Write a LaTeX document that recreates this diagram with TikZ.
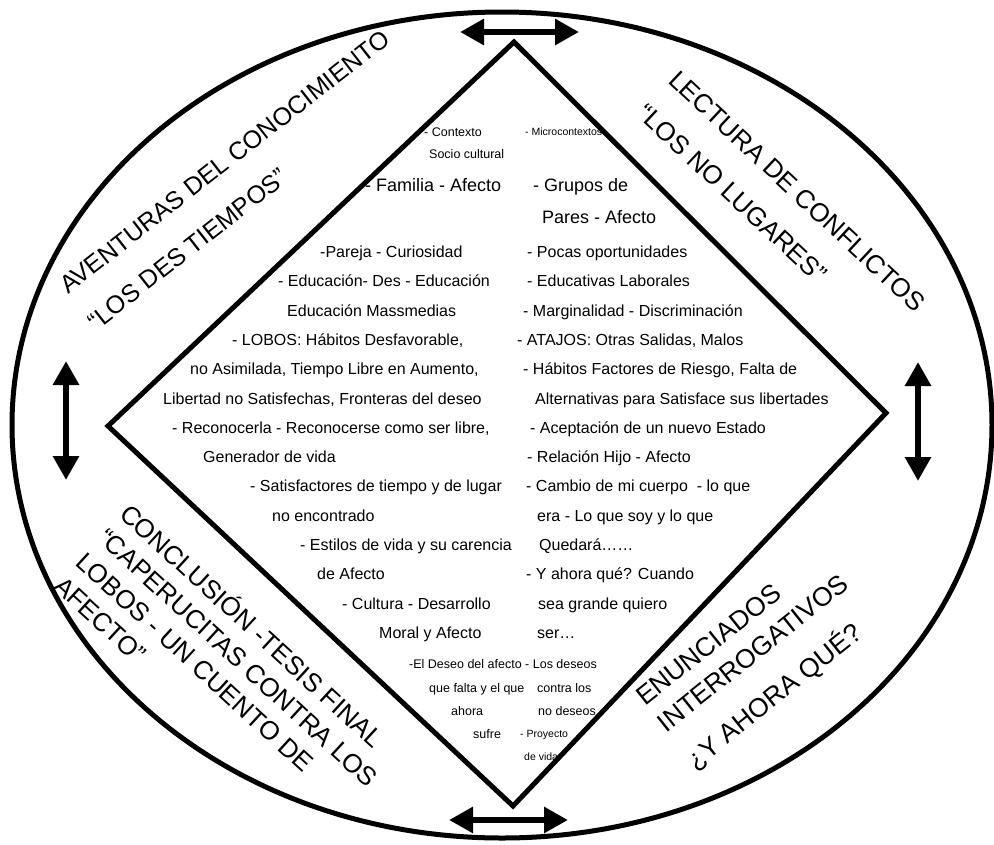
\documentclass[tikz,border=0pt]{standalone}
\usepackage{fontspec}
\setmainfont{Liberation Sans}
\usetikzlibrary{arrows.meta}

\begin{document}
\begin{tikzpicture}[x=1pt,y=-1pt,
  frame/.style={line width=5pt,line join=miter},
  dblarrow/.style={line width=6pt,{Triangle[length=24pt,width=25pt]}-{Triangle[length=24pt,width=25pt]}},
  item/.style={anchor=base west,inner sep=0pt,font=\fontsize{16}{19}\selectfont},
  big/.style={anchor=base west,inner sep=0pt,font=\fontsize{18}{21}\selectfont},
  small/.style={anchor=base west,inner sep=0pt,font=\fontsize{12.5}{15}\selectfont},
  tiny/.style={anchor=base west,inner sep=0pt,font=\fontsize{10.5}{12}\selectfont},
  title/.style={anchor=base west,inner sep=0pt,font=\fontsize{26}{30}\selectfont},
]
\useasboundingbox (0,0) rectangle (994,844);

% key points
\coordinate (ctr) at (502,425);
\coordinate (dT) at (514,42);
\coordinate (dR) at (886,413);
\coordinate (dB) at (513,806);
\coordinate (dL) at (108,426);

% upper tip of the diamond
\node[small] (c1) at (424,136.5) {- Contexto};
\node[tiny]  (c2) at (525,135.5) {- Microcontextos};
\node[small] (c3) at (429,158.5) {Socio cultural};
\node[big] (f1) at (365,191) {- Familia - Afecto};
\node[big] (g1) at (533,191) {- Grupos de};
\node[big] (g2) at (542,223) {Pares - Afecto};

% left column
\node[item] (l1)  at (320,257.5) {-Pareja - Curiosidad};
\node[item] (l2)  at (278,286.8) {- Educación- Des - Educación};
\node[item] (l3)  at (287,316.1) {Educación Massmedias};
\node[item] (l4)  at (232,345.4) {- LOBOS: Hábitos Desfavorable,};
\node[item] (l5)  at (190,374.7) {no Asimilada, Tiempo Libre en Aumento,};
\node[item] (l6)  at (163,404.0) {Libertad no Satisfechas, Fronteras del deseo};
\node[item] (l7)  at (172,433.3) {- Reconocerla - Reconocerse como ser libre,};
\node[item] (l8)  at (203,462.6) {Generador de vida};
\node[item] (l9)  at (250,491.9) {- Satisfactores de tiempo y de lugar};
\node[item] (l10) at (272,521.2) {no encontrado};
\node[item] (l11) at (300,550.5) {- Estilos de vida y su carencia};
\node[item] (l12) at (317,579.8) {de Afecto};
\node[item] (l13) at (342,609.1) {- Cultura - Desarrollo};
\node[item] (l14) at (379,638.4) {Moral y Afecto};

% right column
\node[item] (r1)  at (527,257.5) {- Pocas oportunidades};
\node[item] (r2)  at (527,286.8) {- Educativas Laborales};
\node[item] (r3)  at (523,316.1) {- Marginalidad - Discriminación};
\node[item] (r4)  at (517,345.4) {- ATAJOS: Otras Salidas, Malos};
\node[item] (r5)  at (523,374.7) {- Hábitos Factores de Riesgo, Falta de};
\node[item] (r6)  at (535,404.0) {Alternativas para Satisface sus libertades};
\node[item] (r7)  at (530,433.3) {- Aceptación de un nuevo Estado};
\node[item] (r8)  at (527,462.6) {- Relación Hijo - Afecto};
\node[item] (r9)  at (526,491.9) {- Cambio de mi cuerpo\ \ - lo que};
\node[item] (r10) at (537,521.2) {era - Lo que soy y lo que};
\node[item] (r11) at (539,550.5) {Quedará……};
\node[item] (r12) at (526,579.8) {- Y ahora qué? Cuando};
\node[item] (r13) at (538,609.1) {sea grande quiero};
\node[item] (r14) at (537,638.4) {ser…};

% lower tip of the diamond
\node[small] (b1) at (409,668) {-El Deseo del afecto - Los deseos};
\node[small] (b2) at (429,692) {que falta y el que};
\node[small] (b3) at (537,692) {contra los};
\node[small] (b4) at (451,715) {ahora};
\node[small] (b5) at (538,715) {no deseos};
\node[small] (b6) at (473,738) {sufre};
\node[tiny]  (b7) at (520,737.5) {- Proyecto};
\node[tiny]  (b8) at (524,760.5) {de vida};

% titles in the outer ring (first baseline at the node's base west)
\node[title,font=\fontsize{25}{30}\selectfont,rotate=38] (tl) at (68,295)
  {\begin{tabular}[t]{@{}l@{}}AVENTURAS DEL CONOCIMIENTO\\[16pt]“LOS DES TIEMPOS”\end{tabular}};
\node[title,rotate=-43] (tr) at (667,82)
  {\begin{tabular}[t]{@{}l@{}}LECTURA DE CONFLICTOS\\[16pt]“LOS NO LUGARES”\end{tabular}};
\node[title,rotate=-42.5] (bl) at (118,516)
  {\begin{tabular}[t]{@{}l@{}}CONCLUSIÓN -TESIS FINAL\\[2.5pt]“CAPERUCITAS CONTRA LOS\\[2.5pt]LOBOS - UN CUENTO DE\\[2.5pt]AFECTO”\end{tabular}};
\node[title,font=\fontsize{26.5}{30}\selectfont,rotate=38.5] (br) at (645,707)
  {\begin{tabular}[t]{@{}l@{}}ENUNCIADOS\\[4pt]INTERROGATIVOS\\[15pt]¿Y AHORA QUÉ?\end{tabular}};

% frames
\draw[frame] (ctr) ellipse [x radius=490, y radius=413];
\draw[frame] (dT) -- (dR) -- (dB) -- (dL) -- cycle;

% double arrows
\coordinate (aT1) at (460,32);  \coordinate (aT2) at (579,32);
\coordinate (aB1) at (449,820); \coordinate (aB2) at (568,820);
\coordinate (aL1) at (66,361);  \coordinate (aL2) at (66,480);
\coordinate (aR1) at (918,362); \coordinate (aR2) at (918,481);
\draw[dblarrow] (aT1) -- (aT2);
\draw[dblarrow] (aB1) -- (aB2);
\draw[dblarrow] (aL1) -- (aL2);
\draw[dblarrow] (aR1) -- (aR2);
\end{tikzpicture}
\end{document}
